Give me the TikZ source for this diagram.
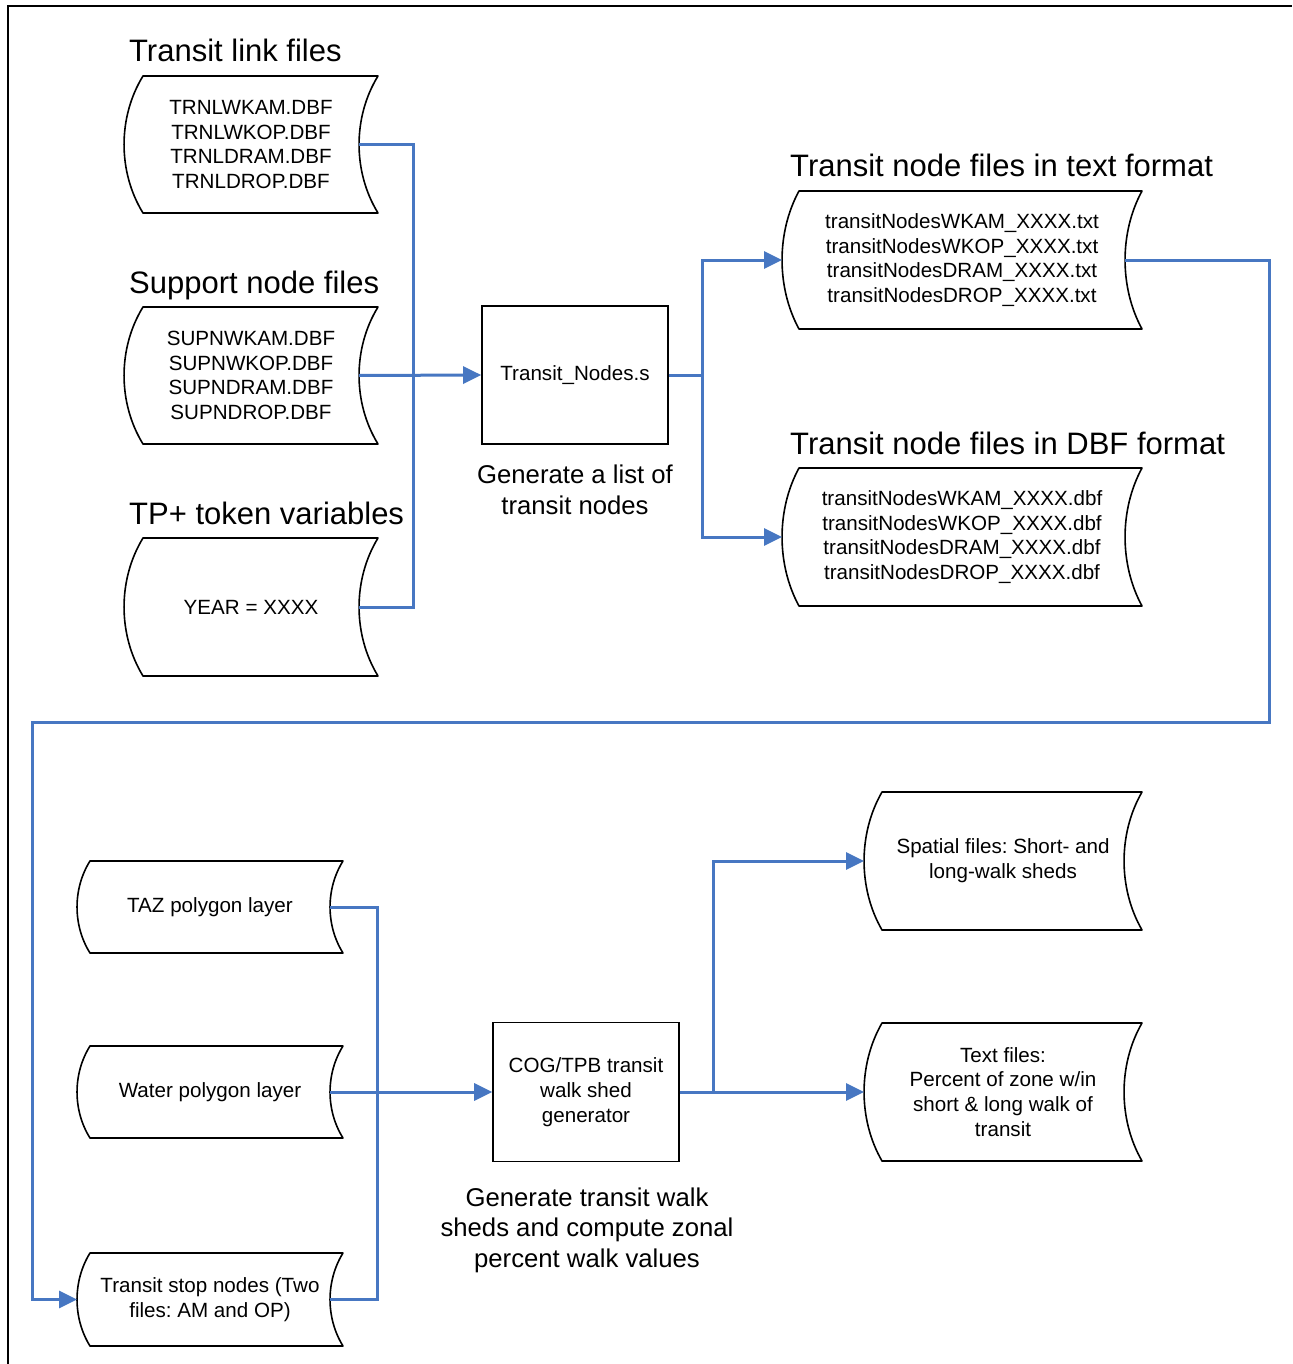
\documentclass[tikz,border=0pt]{standalone}
\usepackage{fontspec}
\setmainfont{Liberation Sans}
\frenchspacing
\usetikzlibrary{arrows.meta}
\definecolor{flowblue}{RGB}{71,119,194}
\tikzset{
 shapeline/.style={draw=black, line width=1.6pt, line join=round},
 inner/.style={align=center, font=\fontsize{20.6}{24.8}\selectfont, inner sep=0pt},
 title/.style={anchor=base west, font=\fontsize{31}{37}\selectfont, inner sep=0pt},
 caption/.style={align=center, font=\fontsize{25.7}{30.5}\selectfont, inner sep=0pt},
 procbox/.style={draw=black, line width=1.6pt, minimum width=186pt, minimum height=138pt, align=center, font=\fontsize{20.6}{24.8}\selectfont, inner sep=0pt},
 conn/.style={draw=flowblue, line width=3pt},
 tipped/.style={-{Triangle[length=18pt,width=17pt]}}
}
\newcommand\datashape[7]{%
 \draw[shapeline] (#2,#3) -- (#4,#3) .. controls +(-1.33*#6,0.3*#5-0.3*#3) and +(-1.33*#6,-0.3*#5+0.3*#3) .. (#4,#5) -- (#2,#5) .. controls +(-1.33*#6,-0.3*#5+0.3*#3) and +(-1.33*#6,0.3*#5-0.3*#3) .. (#2,#3) -- cycle;
 \node[inner] (#1) at ({(#2+#4)/2-#6/2},{(#3+#5)/2}) {#7};
 \coordinate (#1L) at ({#2-#6},{(#3+#5)/2});
 \coordinate (#1R) at ({#4-#6},{(#3+#5)/2});
}
\begin{document}
\begin{tikzpicture}[x=1pt,y=-1pt]
\useasboundingbox (0,0) rectangle (1292,1364);
\draw[line width=2.5pt] (8,1364) -- (8,6) -- (1292,6);

% titles
\node[title] (t1) at (129,62) {Transit link files};
\node[title] (t2) at (129,293) {Support node files};
\node[title] (t3) at (129,524) {TP+ token variables};
\node[title] (t4) at (790,177) {Transit node files in text format};
\node[title] (t5) at (790,454) {Transit node files in DBF format};

% data shapes
\datashape{s1}{143}{76}{378}{213}{19}{TRNLWKAM.DBF\\TRNLWKOP.DBF\\TRNLDRAM.DBF\\TRNLDROP.DBF}
\datashape{s2}{143}{307}{378}{444}{19}{SUPNWKAM.DBF\\SUPNWKOP.DBF\\SUPNDRAM.DBF\\SUPNDROP.DBF}
\datashape{s3}{143}{538}{378}{676}{19}{YEAR = XXXX}
\datashape{s4}{799}{191}{1142}{329}{17}{transitNodesWKAM\_XXXX.txt\\transitNodesWKOP\_XXXX.txt\\transitNodesDRAM\_XXXX.txt\\transitNodesDROP\_XXXX.txt}
\datashape{s5}{799}{468}{1142}{606}{17}{transitNodesWKAM\_XXXX.dbf\\transitNodesWKOP\_XXXX.dbf\\transitNodesDRAM\_XXXX.dbf\\transitNodesDROP\_XXXX.dbf}
\datashape{taz}{90}{861}{343}{953}{13}{TAZ polygon layer}
\datashape{water}{90}{1046}{343}{1138}{13}{Water polygon layer}
\datashape{stop}{90}{1253}{343}{1346}{13}{Transit stop nodes (Two\\files: AM and OP)}
\datashape{spatial}{882}{792}{1142}{930}{18}{Spatial files: Short- and\\long-walk sheds}
\datashape{textf}{882}{1023}{1142}{1161}{18}{Text files:\\Percent of zone w/in\\short \& long walk of\\transit}

% process boxes
\node[procbox] (box1) at (575,375) {Transit\_Nodes.s};
\node[caption] (cap1) at (575,490) {Generate a list of\\transit nodes};
\node[procbox, minimum height=139pt] (box2) at (586,1092) {COG/TPB transit\\walk shed\\generator};
\node[caption] (cap2) at (587,1230) {Generate transit walk\\sheds and compute zonal\\percent walk values};

% connectors
\draw[conn] (s1R) -- ++(54,0) |- (s3R);
\draw[conn,tipped] (s2R) -- (box1.west);
\draw[conn,tipped] (box1.east) -- ++(34,0) |- (s4L);
\draw[conn,tipped] (box1.east) -- ++(34,0) |- (s5L);
\coordinate (turnA) at (1269,722);
\coordinate (turnB) at (32,722);
\draw[conn,tipped] (s4R) -| (turnA) -- (turnB) |- (stopL);
\draw[conn] (tazR) -- ++(47,0) |- (stopR);
\draw[conn,tipped] (waterR) -- (box2.west);
\draw[conn,tipped] (box2.east) -- ++(34,0) |- (spatialL);
\draw[conn,tipped] (box2.east) -- (textfL);
\end{tikzpicture}
\end{document}
